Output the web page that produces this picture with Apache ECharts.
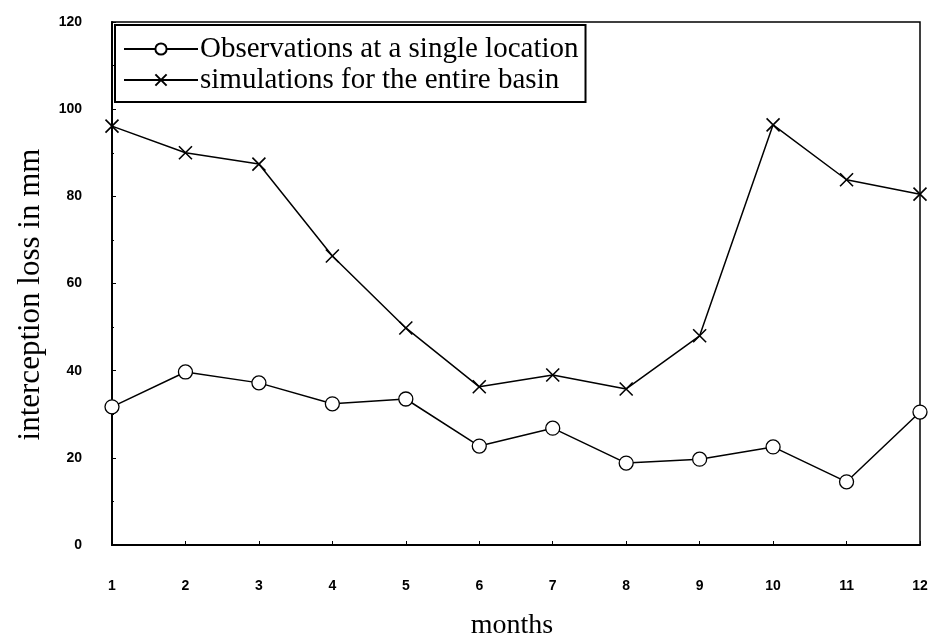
<!DOCTYPE html>
<html>
<head>
<meta charset="utf-8">
<script src="https://cdn.jsdelivr.net/npm/echarts@6/dist/echarts.min.js"></script>
<style>
html,body{margin:0;padding:0;background:#fff;}
#chart{width:930px;height:635px;}
</style>
</head>
<body>
<div id="chart"></div>
<script>
var months = ['1','2','3','4','5','6','7','8','9','10','11','12'];
var observations = [31.7, 39.7, 37.2, 32.4, 33.5, 22.7, 26.8, 18.8, 19.7, 22.5, 14.5, 30.5];
var simulations = [96.1, 90.0, 87.4, 66.3, 49.8, 36.3, 39.0, 35.8, 48.0, 96.4, 83.8, 80.5];
var seriesNames = ['Observations at a single location', 'simulations for the entire basin'];

var crossPath = 'path://M0,0L10,10M10,0L0,10';
var chart = echarts.init(document.getElementById('chart'));
chart.setOption({
  animation: false,
  backgroundColor: '#fff',
  grid: {left: 112, right: 10, top: 22, bottom: 90, containLabel: false, outerBoundsMode: 'none', show: true, borderColor: '#000', borderWidth: 1.5, backgroundColor: 'transparent'},
  legend: {
    orient: 'vertical', left: 115, top: 25,
    borderColor: '#000', borderWidth: 2, padding: [9, 7, 7, 8],
    itemGap: 1, itemWidth: 74, itemHeight: 14,
    textStyle: {fontFamily: 'Liberation Serif', fontSize: 29, lineHeight: 30, color: '#000', padding: [0, 0, 0, -3]},
    data: seriesNames
  },
  xAxis: {
    type: 'category', data: months, boundaryGap: false,
    name: 'months', nameLocation: 'middle', nameGap: 67,
    nameTextStyle: {fontFamily: 'Liberation Serif', fontSize: 28, color: '#000', padding: [0, 8, 0, 0]},
    axisLine: {lineStyle: {color: '#000', width: 2}},
    axisTick: {inside: true, length: 4, lineStyle: {color: '#000'}},
    axisLabel: {margin: 34, fontFamily: 'Liberation Sans', fontWeight: 'bold', fontSize: 14, color: '#000'},
    splitLine: {show: false}
  },
  yAxis: {
    type: 'value', min: 0, max: 120, interval: 20,
    name: 'interception loss in mm', nameLocation: 'middle', nameGap: 66,
    nameTextStyle: {fontFamily: 'Liberation Serif', fontSize: 31, color: '#000', padding: [0, 22, 0, 0]},
    axisLine: {show: true, lineStyle: {color: '#000', width: 2}},
    axisTick: {show: true, inside: true, length: 4, lineStyle: {color: '#000'}},
    minorTick: {show: true, splitNumber: 2, length: 2, lineStyle: {color: '#000'}},
    axisLabel: {margin: 30, fontFamily: 'Liberation Sans', fontWeight: 'bold', fontSize: 14, color: '#000'},
    splitLine: {show: false}
  },
  series: [
    {
      name: seriesNames[0], type: 'line', data: observations,
      symbol: 'circle', symbolSize: 14, showAllSymbol: true,
      lineStyle: {color: '#000', width: 1.5},
      itemStyle: {color: '#fff', borderColor: '#000', borderWidth: 1.3}
    },
    {
      name: seriesNames[1], type: 'line', data: simulations,
      symbol: crossPath, symbolSize: 13, showAllSymbol: true,
      lineStyle: {color: '#000', width: 1.5},
      itemStyle: {color: '#000', borderColor: '#000', borderWidth: 1.6}
    }
  ]
});
</script>
</body>
</html>
